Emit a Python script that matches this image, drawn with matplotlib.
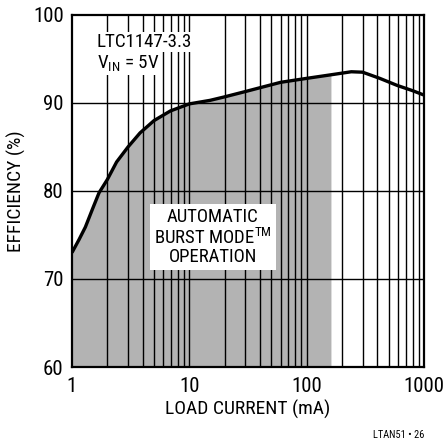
import numpy as np
import matplotlib.pyplot as plt
from matplotlib import font_manager

# Lecture des valeurs sur la courbe de référence
load_ma = [1, 1.15, 1.3, 1.5, 1.7, 2, 2.4, 3, 3.8, 5, 6.9, 10, 15, 20, 30, 60, 100, 160, 240, 300, 420, 590, 800, 1000]
efficiency = [73.0, 74.5, 75.9, 78.0, 79.8, 81.3, 83.3, 85.0, 86.6, 88.0, 89.1, 89.9, 90.3, 90.7, 91.3, 92.35, 92.8, 93.2, 93.55, 93.5, 92.8, 92.0, 91.4, 90.9]
burst_limit = 161
x_ticks = [1, 10, 100, 1000]
y_ticks = [60, 70, 80, 90, 100]

names = {f.name for f in font_manager.fontManager.ttflist}
cands = ['Liberation Sans Narrow', 'Roboto Condensed', 'Open Sans Condensed', 'Roboto', 'Liberation Sans']
fam = [c for c in cands if c in names][0]
plt.rcParams['font.family'] = [fam, 'DejaVu Sans']

fig = plt.figure(figsize=(4.43, 4.44), dpi=100)
ax = fig.add_axes([72 / 443, 1 - 367 / 444, 352 / 443, 352 / 444])

x = np.array(load_ma)
y = np.array(efficiency)
mask = x <= 160
xf = np.append(x[mask], burst_limit)
yf = np.append(y[mask], y[mask][-1])
ax.fill_between(xf, 60, yf, color='#b3b3b3', lw=0, zorder=1)

ax.set_xscale('log')
ax.set_xlim(1, 1000)
ax.set_ylim(60, 100)

# Grille log complète en noir
for dec in [1, 10, 100]:
    for k in range(2, 10):
        ax.axvline(dec * k, color='black', lw=1.0, zorder=2)
for v in [10, 100]:
    ax.axvline(v, color='black', lw=1.0, zorder=2)
for v in [70, 80, 90]:
    ax.axhline(v, color='black', lw=1.0, zorder=2)

ax.plot(x, y, color='black', lw=2.4, zorder=4, solid_capstyle='butt', solid_joinstyle='round')

for s in ax.spines.values():
    s.set_linewidth(1.6)
ax.set_xticks(x_ticks)
ax.set_xticklabels([str(t) for t in x_ticks])
ax.set_yticks(y_ticks)
ax.xaxis.set_minor_locator(plt.NullLocator())
ax.tick_params(axis='x', length=0, labelsize=15, pad=7)
ax.tick_params(axis='y', length=0, labelsize=15, pad=6)
ax.set_xlabel('LOAD CURRENT (mA)', fontsize=14, labelpad=3)
ax.set_ylabel('EFFICIENCY (%)', fontsize=14, labelpad=5)

ax.text(0.071, 0.923, 'LTC1147-3.3', transform=ax.transAxes, fontsize=13.7, va='center', zorder=5,
        bbox=dict(facecolor='white', edgecolor='none', pad=1))
ax.text(0.071, 0.862, r'V$_{\mathregular{IN}}$ = 5V', transform=ax.transAxes, fontsize=13.7, va='center', zorder=5,
        bbox=dict(facecolor='white', edgecolor='none', pad=1))

ax.text(0.40, 0.369, 'AUTOMATIC\nBURST MODE$^{\\mathregular{TM}}$\nOPERATION', transform=ax.transAxes,
        fontsize=13.5, ha='center', va='center', linespacing=1.05, zorder=5,
        bbox=dict(facecolor='white', edgecolor='none', pad=3))

fig.text(424 / 443, 1 - 435 / 444, 'LTAN51 • 26', fontsize=7.5, ha='right', va='center')

fig.savefig('out.png', dpi=100)
